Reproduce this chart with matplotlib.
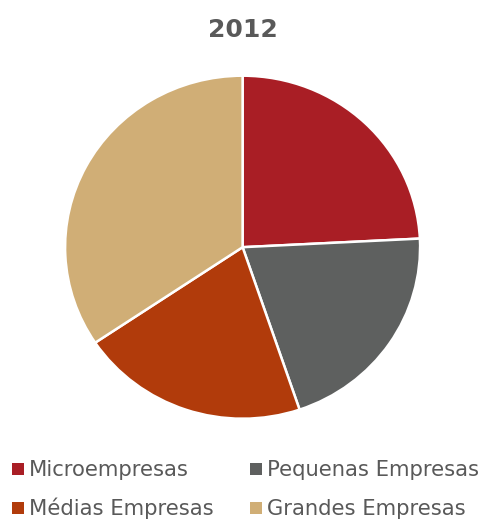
import matplotlib
matplotlib.use("Agg")
import matplotlib.pyplot as plt
from matplotlib.patches import Rectangle

labels = ["Microempresas", "Pequenas Empresas", "Médias Empresas", "Grandes Empresas"]
values = [24.2, 20.6, 20.8, 34.4]
colors = ["#A91E25", "#5E605F", "#B13B0B", "#D0AE76"]
title = "2012"

W, H = 491, 522
fig = plt.figure(figsize=(W / 100, H / 100), dpi=100)

# pastel ligeramente elíptico como en la referencia
cx, cy, rx, ry = 242.6, 247.2, 177.5, 171.5
ax = fig.add_axes([(cx - rx) / W, (H - cy - ry) / H, 2 * rx / W, 2 * ry / H])
ax.pie(values, colors=colors, startangle=90, counterclock=False, radius=1,
       wedgeprops=dict(edgecolor="white", linewidth=1.8))
ax.set_aspect("auto")
ax.set_xlim(-1.0, 1.0)
ax.set_ylim(-1.0, 1.0)
ax.axis("off")

fig.text(cx / W, 1 - 30 / H, title, ha="center", va="center",
         fontsize=18, fontweight="bold", color="#595959")

# leyenda manual en dos columnas
pos = [(12, 476), (250, 476), (12, 515), (250, 515)]
for (x, y), lab, col in zip(pos, labels, colors):
    fig.patches.append(Rectangle((x / W, 1 - (y - 1) / H), 12 / W, 12 / H,
                                 transform=fig.transFigure, facecolor=col,
                                 edgecolor="none"))
    fig.text((x + 17) / W, 1 - y / H, lab, ha="left", va="baseline",
             fontsize=15.2, color="#595959")

fig.savefig("out.png", dpi=100)
